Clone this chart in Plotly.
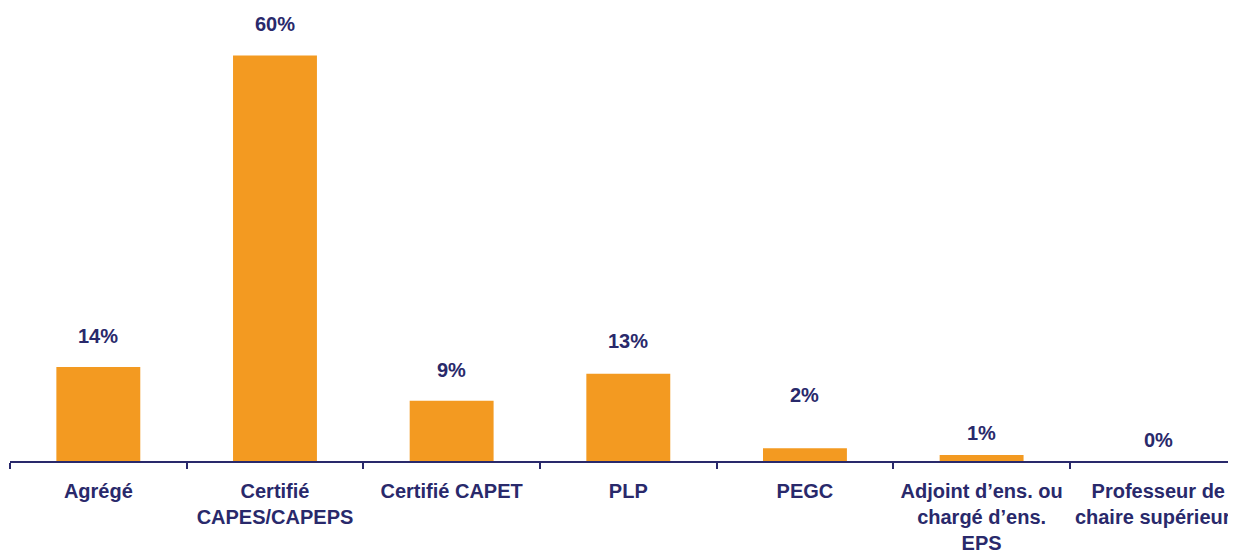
import plotly.graph_objects as go

# catégories et valeurs (%)
categories = ['Agrégé', 'Certifié<br>CAPES/CAPEPS', 'Certifié CAPET', 'PLP', 'PEGC',
              'Adjoint d’ens. ou<br>chargé d’ens.<br>EPS', 'Professeur de<br>chaire supérieure']
values = [13.9, 60.0, 8.9, 12.9, 1.9, 0.9, 0.0]
labels = ['14%', '60%', '9%', '13%', '2%', '1%', '0%']

orange = '#F39A21'
navy = '#29296B'
font = 'Liberation Sans, Arial, sans-serif'

fig = go.Figure(go.Bar(x=categories, y=values, marker_color=orange,
                       marker_line_width=0, hoverinfo='skip'))

# décalage vertical (px) des étiquettes au-dessus des barres
label_shift = [31, 32, 31, 33, 53, 22, 21]
for cat, v, lab, dy in zip(categories, values, labels, label_shift):
    fig.add_annotation(x=cat, y=v, text=lab, showarrow=False, yanchor='middle',
                       yshift=dy, font=dict(family=font, size=20, color=navy))

# la page ajoute une marge de 8 px autour de la figure
fig.update_layout(
    width=1228, height=544,
    margin=dict(l=2, r=0, t=34, b=91, autoexpand=False),
    plot_bgcolor='white', paper_bgcolor='white',
    bargap=0.525, showlegend=False,
    font=dict(family=font, size=20, color=navy),
)
fig.update_xaxes(range=[-0.5, 6.44], showline=True, linecolor=navy, linewidth=2,
                 ticks='outside', tickson='boundaries', ticklen=6, tickwidth=2,
                 tickcolor=navy, showgrid=False, tickangle=0, ticklabelstandoff=11,
                 automargin=False,
                 tickfont=dict(family=font, size=20, color=navy, weight='bold'))
fig.update_yaxes(range=[0, 62], visible=False, showgrid=False, automargin=False)
fig.update_annotations(font_weight='bold')

fig.write_html('out.html')
